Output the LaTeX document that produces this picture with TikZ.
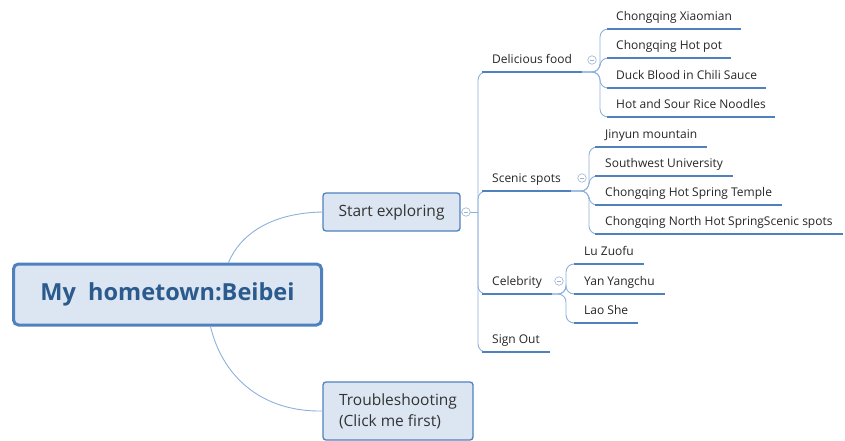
\documentclass[tikz,border=0pt]{standalone}
\usepackage{fontspec}
\setmainfont{Open Sans}
\usetikzlibrary{positioning}

\definecolor{boxfill}{HTML}{DCE6F2}
\definecolor{boxline}{HTML}{4F81BD}
\definecolor{linkcol}{HTML}{8DB0DD}
\definecolor{rootcol}{HTML}{2B5A8C}
\definecolor{foldcol}{HTML}{9DB3CF}

\begin{document}
\begin{tikzpicture}[x=1pt,y=-1pt,font=\fontsize{12}{14}\selectfont]

\tikzstyle{topic}=[draw=boxline,fill=boxfill,rounded corners=3pt,line width=1.3pt,inner sep=0pt,text=black!80,font=\fontsize{15.5}{21}\selectfont]
\tikzstyle{leaf}=[anchor=south west,inner xsep=10pt,inner ysep=5.5pt,text height=9pt,text depth=3pt,text=black!85]
\tikzstyle{uline}=[draw=boxline,line width=2.2pt]
\tikzstyle{link}=[draw=linkcol,line width=0.9pt,rounded corners=8pt]
\tikzstyle{fold}=[circle,draw=foldcol,fill=white,line width=0.6pt,minimum size=8.5pt,inner sep=0pt,
  path picture={\draw[foldcol,line width=0.6pt] ([xshift=-2.2pt]path picture bounding box.center) -- ([xshift=2.2pt]path picture bounding box.center);}]

\useasboundingbox (0,0) rectangle (845,441);

%root and main topics
\node [draw=boxline,fill=boxfill,line width=3pt,rounded corners=5pt,minimum width=308pt,minimum height=61pt,
       text=rootcol,font=\fontsize{23.5}{28}\bfseries] (root) at (167.5,294.5) {My~ hometown:Beibei};
\node [topic,minimum width=137pt,minimum height=38pt] (start) at (391.5,212) {Start exploring};
\node [topic,minimum width=150pt,minimum height=58pt,align=left] (trouble) at (398,411)
      {Troubleshooting\\(Click me first)};

\draw [link] ([xshift=61pt]root.north) .. controls (240,235) and (270,213) .. (start.west);
\draw [link] ([xshift=43pt]root.south) .. controls (222,375) and (260,412) .. (trouble.west);

%second level
\node [leaf] (food) at (482,72) {Delicious food};
\node [leaf] (scenic) at (482,191) {Scenic spots};
\node [leaf] (celeb) at (482,294) {Celebrity};
\node [leaf] (signout) at (482,352) {Sign Out};

\coordinate (sj) at (478,212);
\draw [link] (start.east) -- (sj);
\foreach \n in {food,scenic,celeb,signout}
  \draw [link] (sj) |- (\n.south west);

%Delicious food
\node [leaf,inner xsep=9pt] (f1) at (607,29) {Chongqing Xiaomian};
\node [leaf,inner xsep=9pt] (f2) at (607,58) {Chongqing Hot pot};
\node [leaf,inner xsep=9pt] (f3) at (607,88) {Duck Blood in Chili Sauce};
\node [leaf,inner xsep=9pt] (f4) at (607,117) {Hot and Sour Rice Noodles};

\coordinate (fj) at (600,72);
\foreach \n in {f1,f2,f3,f4}
  \draw [link] (food.south east) -- (fj) |- (\n.south west);

%Scenic spots
\node [leaf] (s1) at (595,147) {Jinyun mountain};
\node [leaf] (s2) at (595,176) {Southwest University};
\node [leaf] (s3) at (595,205) {Chongqing Hot Spring Temple};
\node [leaf] (s4) at (595,234) {Chongqing North Hot SpringScenic spots};

\coordinate (scj) at (589,191);
\foreach \n in {s1,s2,s3,s4}
  \draw [link] (scenic.south east) -- (scj) |- (\n.south west);

%Celebrity
\node [leaf] (c1) at (574,264) {Lu Zuofu};
\node [leaf] (c2) at (574,294) {Yan Yangchu};
\node [leaf] (c3) at (574,323) {Lao She};

\coordinate (cj) at (566,294);
\foreach \n in {c1,c2,c3}
  \draw [link] (celeb.south east) -- (cj) |- (\n.south west);

%underlines
\foreach \n in {food,scenic,celeb,signout,f1,f2,f3,f4,s1,s2,s3,s4,c1,c2,c3}
  \draw [uline] (\n.south west) -- (\n.south east);

%fold markers
\node [fold] (startfold) at (466,212) {};
\node [fold] (foodfold) at (592,60) {};
\node [fold] (scenicfold) at (582,178) {};
\node [fold] (celebfold) at (559,281) {};

\end{tikzpicture}
\end{document}
